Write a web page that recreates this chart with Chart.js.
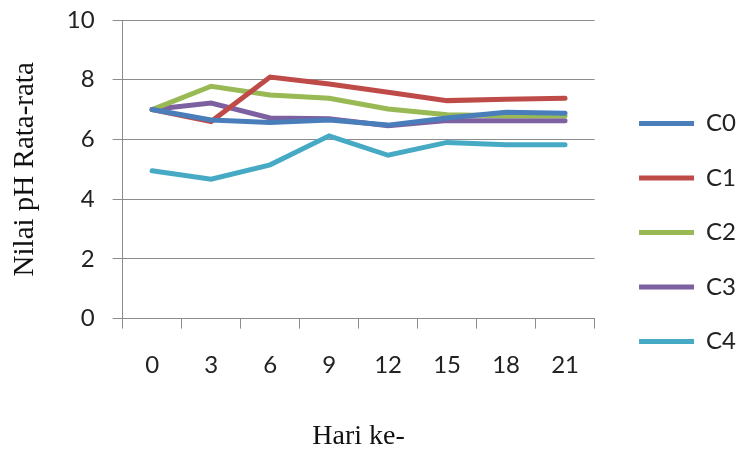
<html lang="id">
<head>
<meta charset="UTF-8" />
<script src="https://cdn.jsdelivr.net/npm/chart.js@4.4.0/dist/chart.umd.min.js"></script>
<title>Nilai pH Rata-rata</title>
<style>
  body { margin: 0; background: #fff; }
</style>
</head>
<body>
<canvas id="chart" width="738" height="453"></canvas>
<script>
// data
var hari = ["0", "3", "6", "9", "12", "15", "18", "21"];
var c0 = [7.0, 6.65, 6.57, 6.65, 6.48, 6.72, 6.91, 6.88];
var c1 = [7.0, 6.6, 8.09, 7.86, 7.58, 7.3, 7.35, 7.38];
var c2 = [7.0, 7.78, 7.49, 7.38, 7.02, 6.83, 6.79, 6.79];
var c3 = [7.0, 7.22, 6.72, 6.69, 6.46, 6.63, 6.63, 6.63];
var c4 = [4.95, 4.67, 5.15, 6.12, 5.47, 5.9, 5.82, 5.82];
var yTicks = [0, 2, 4, 6, 8, 10];

var grey = "#8c8c8c";
var tickFont = { family: "Lato", size: 24 };

function line(label, data, color) {
  return {
    label: label, data: data,
    borderColor: color, backgroundColor: color,
    borderWidth: 5, borderCapStyle: 'round',
    pointRadius: 0, tension: 0
  };
}

// nudge the legend a bit away from the plot, like the original
var legendShift = {
  id: 'legendShift',
  afterLayout: function (chart) {
    var lg = chart.legend;
    lg.left += 14; lg.right += 14;
    lg.top += 6; lg.bottom += 6;
  }
};

var ctx = document.getElementById('chart').getContext('2d');
var myChart = new Chart(ctx, {
  type: 'line',
  data: {
    labels: hari,
    datasets: [
      line("C0", c0, "#4a7ebb"),
      line("C1", c1, "#be4b48"),
      line("C2", c2, "#98b954"),
      line("C3", c3, "#7d60a0"),
      line("C4", c4, "#46aac5")
    ]
  },
  plugins: [legendShift],
  options: {
    responsive: false,
    animation: false,
    layout: { padding: { top: 0, left: 0, right: 6, bottom: 0 } },
    plugins: {
      tooltip: { enabled: false },
      legend: {
        position: 'right',
        labels: {
          usePointStyle: true, pointStyle: 'line', pointStyleWidth: 55,
          padding: 30.5,
          color: "#222",
          font: { family: "Lato", size: 24 }
        }
      }
    },
    scales: {
      x: {
        offset: true,
        grid: { offset: true, drawOnChartArea: false, tickLength: 10, color: grey },
        border: { color: grey },
        ticks: { color: "#222", font: tickFont, padding: 22, maxRotation: 0 },
        title: {
          display: true, text: "Hari ke-", color: "#111",
          font: { family: "Liberation Serif", size: 28 },
          padding: { top: 18, bottom: 0 }
        }
      },
      y: {
        min: 0, max: 10,
        afterBuildTicks: function (s) { s.ticks = yTicks.map(function (v) { return { value: v }; }); },
        afterFit: function (s) { s.paddingTop = 20; s.paddingBottom = 0; },
        grid: { color: grey, tickLength: 10 },
        border: { color: grey },
        ticks: { color: "#222", font: tickFont, padding: 18 },
        title: {
          display: true, text: "Nilai pH Rata-rata", color: "#111",
          font: { family: "Liberation Serif", size: 29 },
          padding: { top: 8, bottom: 6 }
        }
      }
    }
  }
});
</script>
</body>
</html>
